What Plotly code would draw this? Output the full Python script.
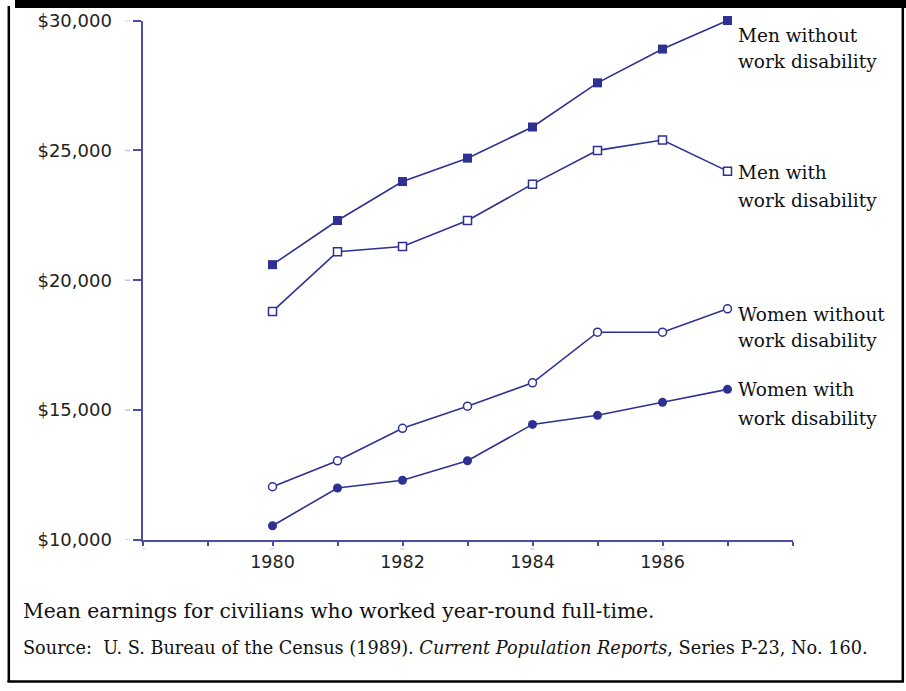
import plotly.graph_objects as go

# ---------------- data ----------------
years = [1980, 1981, 1982, 1983, 1984, 1985, 1986, 1987]
men_without = [20600, 22300, 23800, 24700, 25900, 27600, 28900, 30000]
men_with = [18800, 21100, 21300, 22300, 23700, 25000, 25400, 24200]
women_without = [12050, 13050, 14300, 15150, 16050, 18000, 18000, 18900]
women_with = [10550, 12000, 12300, 13050, 14450, 14800, 15300, 15800]

series_names = ["Men without", "Men with", "Women without", "Women with"]

y_tick_values = [10000, 15000, 20000, 25000, 30000]
y_tick_labels = ["$10,000", "$15,000", "$20,000", "$25,000", "$30,000"]
x_tick_values = [1978, 1979, 1980, 1981, 1982, 1983, 1984, 1985, 1986, 1987, 1988]
x_label_years = [1980, 1982, 1984, 1986]

caption_1 = "Mean earnings for civilians who worked year-round full-time."
caption_2 = ("Source:  U. S. Bureau of the Census (1989). <i>Current Population Reports</i>,"
             " Series P-23, No. 160.")

# ---------------- style ----------------
W, H = 906, 691
NAVY = "#2e3192"
AXIS = "#4a4ea8"
FAINT = "#c5c7e6"


def px(x):
    return x / W


def py(y):
    return 1 - y / H


fig = go.Figure()

marker_styles = [
    dict(symbol="square", size=9, color=NAVY, line=dict(color=NAVY, width=0)),
    dict(symbol="square", size=8, color="white", line=dict(color=NAVY, width=1.5)),
    dict(symbol="circle", size=8, color="white", line=dict(color=NAVY, width=1.5)),
    dict(symbol="circle", size=9, color=NAVY, line=dict(color=NAVY, width=0)),
]
all_series = [men_without, men_with, women_without, women_with]

for name, vals, mk in zip(series_names, all_series, marker_styles):
    fig.add_trace(go.Scatter(
        x=years, y=vals, mode="lines+markers", name=name,
        line=dict(color=NAVY, width=1.6),
        marker=mk, showlegend=False, cliponaxis=False, hoverinfo="skip",
    ))

# series labels (two lines each), placed next to last point
label_font = dict(family="DejaVu Serif", size=18.5, color="#111111")
label_offsets = [(15, 26), (1.5, 28), (6, 26), (0.5, 29)]  # (first line below point, line gap)
for name, vals, (s1, gap) in zip(series_names, all_series, label_offsets):
    fig.add_annotation(x=years[-1], y=vals[-1], xref="x", yref="y", text=name,
                       showarrow=False, xanchor="left", yanchor="middle",
                       xshift=8, yshift=-s1, font=label_font)
    fig.add_annotation(x=years[-1], y=vals[-1], xref="x", yref="y", text="work disability",
                       showarrow=False, xanchor="left", yanchor="middle",
                       xshift=8, yshift=-(s1 + gap), font=label_font)

# captions
fig.add_annotation(x=px(21), y=py(611), xref="paper", yref="paper", text=caption_1,
                   showarrow=False, xanchor="left", yanchor="middle",
                   font=dict(family="DejaVu Serif", size=20.3, color="#111111"))
fig.add_annotation(x=px(21), y=py(648), xref="paper", yref="paper", text=caption_2,
                   showarrow=False, xanchor="left", yanchor="middle",
                   font=dict(family="DejaVu Serif", size=17.7, color="#111111"))

# frame
shapes = [
    dict(type="rect", xref="paper", yref="paper", x0=px(15), x1=1, y0=py(8), y1=1,
         fillcolor="black", line=dict(width=0)),
    dict(type="line", xref="paper", yref="paper", x0=px(8.8), x1=px(8.8), y0=py(6), y1=py(682),
         line=dict(color="black", width=2.5)),
    dict(type="line", xref="paper", yref="paper", x0=px(7.5), x1=px(904), y0=py(681.5), y1=py(681.5),
         line=dict(color="black", width=2.5)),
    dict(type="line", xref="paper", yref="paper", x0=px(902.8), x1=px(902.8), y0=py(6), y1=py(682),
         line=dict(color="black", width=2.5)),
]
# faint detached tick dashes
for v in y_tick_values:
    shapes.append(dict(type="line", xref="paper", yref="y", x0=px(125), x1=px(130), y0=v, y1=v,
                       line=dict(color=FAINT, width=1.5)))
for v in [1978, 1980, 1982, 1984, 1986, 1988]:
    shapes.append(dict(type="line", xref="x", yref="paper", x0=v, x1=v, y0=py(548.5), y1=py(549.5),
                       line=dict(color=FAINT, width=5)))
fig.update_layout(shapes=shapes)

fig.update_layout(
    template="none",
    width=W, height=H,
    margin=dict(l=0, r=0, t=0, b=0, pad=0, autoexpand=False),
    paper_bgcolor="white", plot_bgcolor="white",
    hovermode=False,
    xaxis=dict(
        domain=[px(142.5), px(792.5)], range=[1978, 1988], automargin=False,
        tickmode="array", tickvals=x_tick_values,
        ticktext=[str(v) if v in x_label_years else "" for v in x_tick_values],
        showgrid=False, zeroline=False,
        showline=True, linecolor=AXIS, linewidth=2,
        ticks="outside", ticklen=4, tickwidth=2, tickcolor=AXIS,
        tickfont=dict(family="DejaVu Sans", size=17.5, color="#222222"),
        ticklabelstandoff=1,
    ),
    yaxis=dict(
        domain=[py(540), py(20.5)], range=[10000, 30000], automargin=False,
        tickmode="array", tickvals=y_tick_values, ticktext=y_tick_labels,
        showgrid=False, zeroline=False,
        showline=True, linecolor=AXIS, linewidth=2,
        ticks="outside", ticklen=8, tickwidth=1.5, tickcolor=AXIS,
        tickfont=dict(family="DejaVu Sans", size=18, color="#222222"),
        ticklabelstandoff=17,
    ),
)

# pin the graph div to the top-left corner of the page
pin_js = ("document.body.style.margin='0';"
          "var d=document.getElementById('{plot_id}');"
          "d.style.position='fixed';d.style.left='0px';d.style.top='0px';")

fig.write_html("out.html", post_script=pin_js, config={"displayModeBar": False})
